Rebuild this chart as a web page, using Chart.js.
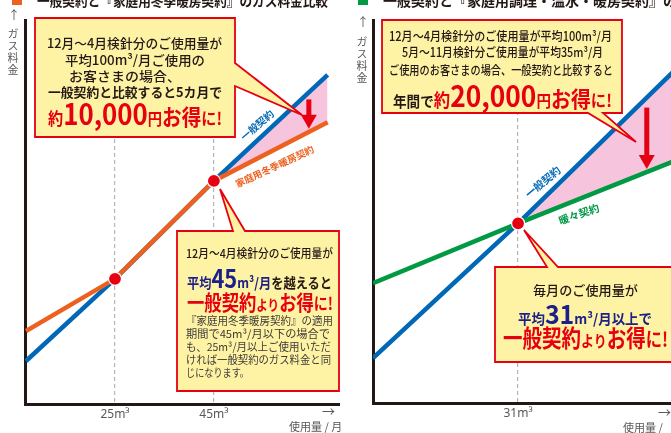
<!DOCTYPE html>
<html lang="ja">
<head>
<meta charset="utf-8">
<script src="https://cdn.jsdelivr.net/npm/chart.js@4.4.1/dist/chart.umd.min.js"></script>
<style>
  html, body { margin: 0; padding: 0; width: 671px; height: 433px; overflow: hidden; background: #fff; }
  body { position: relative; font-family: 'Noto Sans CJK JP', 'Noto Sans', sans-serif; color: #231815; }
  canvas { position: absolute; top: 0; z-index: 1; }
  #callouts { position: absolute; left: 0; top: 0; z-index: 2; }
  .t { position: absolute; white-space: nowrap; transform-origin: 0 50%; z-index: 3; }
  .n { color: #1d2088; }
  .r { color: #e60012; }
  .b { font-weight: 700; }
  .cap { position: absolute; z-index: 3; color: #595757; font-size: 11px; line-height: 11px; }
  .lab { position: absolute; z-index: 3; font-weight: 700; white-space: nowrap; line-height: 1; transform-origin: 50% 50%; }
</style>
</head>
<body>

<!-- headers (cut off at the top) -->
<div style="position:absolute;left:12px;top:-6px;width:10px;height:11px;background:#ec6120"></div>
<div class="t b" style="left:37px;top:-7px;font-size:14px;line-height:14px" data-w="291">一般契約と『家庭用冬季暖房契約』のガス料金比較</div>
<div style="position:absolute;left:358px;top:-6px;width:10px;height:11px;background:#009944"></div>
<div class="t b" style="left:383px;top:-7px;font-size:14px;line-height:14px">一般契約と『家庭用調理・温水・暖房契約』のガス料金比較</div>

<canvas id="left" width="340" height="433" style="left:0"></canvas>
<canvas id="right" width="340" height="433" style="left:340px"></canvas>

<svg id="callouts" width="671" height="433">
  <g fill="#fef3a4" stroke="#e60012" stroke-width="1.8" stroke-linejoin="miter">
    <path d="M35,18 H235 V63 L302,115 L235,86 V137 H35 Z"/>
    <path d="M177,231 H233 L220,189 L245,231 H339 V391 H177 Z"/>
    <path d="M382,20 H622 V113 H603 L636,142 L588,113 H382 Z"/>
    <path d="M495,267 H547 L524,230 L558,267 H700 V362 H495 Z"/>
  </g>
</svg>

<!-- axis captions -->
<div class="cap" style="left:8px;top:9px;font-size:12px">↑</div>
<div class="cap" style="left:7px;top:28px;writing-mode:vertical-rl;letter-spacing:1px">ガス料金</div>
<div class="cap" style="left:322px;top:405px;font-size:13px">→</div>
<div class="cap" style="left:289px;top:420px;font-size:11px;line-height:13px">使用量 / 月</div>
<div class="cap" style="left:357px;top:16px;font-size:12px">↑</div>
<div class="cap" style="left:356px;top:36px;writing-mode:vertical-rl;letter-spacing:1px">ガス料金</div>
<div class="cap" style="left:658px;top:406px;font-size:13px">→</div>
<div class="cap" style="left:623px;top:421px;font-size:11px;line-height:13px">使用量 / 月</div>

<!-- line labels -->
<div class="lab" style="left:237px;top:120px;font-size:10px;color:#0068b7;transform:rotate(-41deg)">一般契約</div>
<div class="lab" style="left:232px;top:162px;font-size:9.5px;color:#ec6120;transform:rotate(-25deg)">家庭用冬季暖房契約</div>
<div class="lab" style="left:522px;top:177px;font-size:10.5px;color:#0068b7;transform:rotate(-40deg)">一般契約</div>
<div class="lab" style="left:558px;top:209px;font-size:10.5px;color:#009944;transform:rotate(-19deg)">暖々契約</div>

<!-- left top callout -->
<div class="t" style="left:47px;top:35px;font-size:13px;line-height:16px;font-weight:500" data-w="175">12月〜4月検針分のご使用量が</div>
<div class="t" style="left:65px;top:52px;font-size:13px;line-height:16px;font-weight:500" data-w="140">平均100m³/月ご使用の</div>
<div class="t" style="left:69px;top:68px;font-size:13px;line-height:16px;font-weight:500" data-w="112">お客さまの場合、</div>
<div class="t b" style="left:48px;top:84px;font-size:13px;line-height:16px" data-w="174">一般契約と比較すると5カ月で</div>
<div class="t b r" style="left:48px;top:97px;font-size:17px;line-height:30px" data-w="174"><span>約</span><span style="font-size:29px">10,000</span><span style="font-size:16px">円</span><span style="font-size:22px">お得</span><span>に!</span></div>

<!-- left bottom callout -->
<div class="t" style="left:186px;top:245px;font-size:12px;line-height:16px;font-weight:500" data-w="147">12月〜4月検針分のご使用量が</div>
<div class="t b" style="left:187px;top:263px;font-size:14px;line-height:28px" data-w="145"><span class="n">平均<span style="font-size:25px">45</span>m³/月</span>を越えると</div>
<div class="t b r" style="left:187px;top:288px;font-size:21px;line-height:26px" data-w="146">一般契約<span style="font-size:14px">より</span>お得<span style="font-size:17px">に!</span></div>
<div class="t" style="left:186px;top:313px;font-size:11px;line-height:14px;color:#3e3a39" data-w="147">『家庭用冬季暖房契約』の適用</div>
<div class="t" style="left:186px;top:326px;font-size:11px;line-height:14px;color:#3e3a39" data-w="144">期間で45m³/月以下の場合で</div>
<div class="t" style="left:186px;top:339px;font-size:11px;line-height:14px;color:#3e3a39" data-w="145">も、25m³/月以上ご使用いただ</div>
<div class="t" style="left:186px;top:352px;font-size:11px;line-height:14px;color:#3e3a39" data-w="145">ければ一般契約のガス料金と同</div>
<div class="t" style="left:186px;top:365px;font-size:11px;line-height:14px;color:#3e3a39" data-w="63">じになります。</div>

<!-- right top callout -->
<div class="t" style="left:389px;top:28px;font-size:12.5px;line-height:16px;font-weight:500" data-w="223">12月〜4月検針分のご使用量が平均100m³/月</div>
<div class="t" style="left:402px;top:44px;font-size:12.5px;line-height:16px;font-weight:500" data-w="201">5月〜11月検針分ご使用量が平均35m³/月</div>
<div class="t" style="left:389px;top:62px;font-size:12.5px;line-height:16px;font-weight:500" data-w="224">ご使用のお客さまの場合、一般契約と比較すると</div>
<div class="t b" style="left:393px;top:79px;font-size:15px;line-height:30px" data-w="219">年間で<span class="r"><span style="font-size:18px">約</span><span style="font-size:29px">20,000</span><span style="font-size:16px">円</span><span style="font-size:22px">お得</span><span style="font-size:17px">に!</span></span></div>

<!-- right bottom callout -->
<div class="t" style="left:533px;top:282px;font-size:13px;line-height:16px;font-weight:500" data-w="105">毎月のご使用量が</div>
<div class="t b n" style="left:518px;top:299px;font-size:14px;line-height:28px" data-w="134">平均<span style="font-size:26px">31</span>m³/月以上で</div>
<div class="t b r" style="left:503px;top:323px;font-size:24px;line-height:28px" data-w="165">一般契約<span style="font-size:16px">より</span>お得<span style="font-size:20px">に!</span></div>

<script>
// usage (m³/月) and relative gas fee
const leftUsage = [7, 25, 45, 68];
const leftGeneral = [11.2, 32.6, 58.1, 85.7];
const leftWinter = [19.0, 32.6, 58.1, 73.4];
const leftCross = [25, 45];
const leftTicks = [25, 45];

const rightUsage = [0, 31, 65];
const rightGeneral = [11.7, 46.9, 87.5];
const rightHeating = [31.3, 46.9, 63.5];
const rightCross = [31];
const rightTicks = [31];

const BLUE = '#0068b7';
const ORANGE = '#ec6120';
const GREEN = '#009944';
const RED = '#e60012';
const PINK = '#f6c5dd';

const pts = (xs, ys) => xs.map((x, i) => ({ x, y: ys[i] }));

const redArrow = {
  id: 'redArrow',
  afterDatasetsDraw(chart, args, opts) {
    const { ctx, scales: { x, y } } = chart;
    const at = (ds) => {
      const d = chart.data.datasets[ds].data;
      for (let i = 1; i < d.length; i++) {
        if (opts.x <= d[i].x) {
          const t = (opts.x - d[i - 1].x) / (d[i].x - d[i - 1].x);
          return d[i - 1].y + t * (d[i].y - d[i - 1].y);
        }
      }
    };
    const px = x.getPixelForValue(opts.x);
    const top = y.getPixelForValue(at(opts.from)) + opts.gapTop;
    const tip = y.getPixelForValue(at(opts.to)) - opts.gapBottom;
    ctx.save();
    ctx.fillStyle = RED;
    ctx.fillRect(px - 2.5, top, 5, tip - top - 12);
    ctx.beginPath();
    ctx.moveTo(px - 8, tip - 14);
    ctx.lineTo(px + 8, tip - 14);
    ctx.lineTo(px, tip);
    ctx.closePath();
    ctx.fill();
    ctx.restore();
  }
};

function makeChart(id, cfg) {
  const crossPts = cfg.cross.map(c => ({ x: c, y: cfg.general[cfg.usage.indexOf(c)] }));
  return new Chart(document.getElementById(id), {
    type: 'line',
    data: {
      datasets: [
        {
          label: '交点',
          data: crossPts,
          showLine: false,
          pointRadius: 6.5,
          pointBackgroundColor: RED,
          pointBorderColor: '#fff',
          pointBorderWidth: 1.2
        },
        {
          label: cfg.otherName,
          data: pts(cfg.usage, cfg.other),
          borderColor: cfg.otherColor,
          borderWidth: 4.5,
          pointRadius: 0,
          fill: false
        },
        {
          label: '一般契約',
          data: pts(cfg.usage, cfg.general),
          borderColor: BLUE,
          borderWidth: 4.5,
          pointRadius: 0,
          fill: { target: 1, above: PINK, below: 'rgba(0,0,0,0)' }
        }
      ]
    },
    options: {
      responsive: false,
      animation: false,
      layout: { autoPadding: false, padding: { top: 20, left: 0, right: 0, bottom: 0 } },
      plugins: {
        legend: { display: false },
        tooltip: { enabled: false },
        redArrow: cfg.arrow
      },
      scales: {
        x: {
          type: 'linear',
          min: cfg.min,
          max: cfg.max,
          afterBuildTicks: s => { s.ticks = cfg.ticks.map(v => ({ value: v })); },
          afterFit: s => { s.height = cfg.xh; },
          ticks: {
            callback: v => v + 'm³',
            font: { family: "'Noto Sans', sans-serif", size: 12 },
            color: '#595757',
            padding: 3,
            maxRotation: 0,
            autoSkip: false
          },
          grid: { color: '#b5b5b6', lineWidth: 1.2, drawTicks: false },
          border: { color: '#231815', width: 3, dash: [4, 3] }
        },
        y: {
          min: 0,
          max: 100,
          afterFit: s => { s.width = cfg.yw; },
          ticks: { display: false },
          grid: { display: false },
          border: { color: '#231815', width: 3 }
        }
      }
    },
    plugins: [redArrow]
  });
}

makeChart('left', {
  usage: leftUsage, general: leftGeneral, other: leftWinter,
  otherName: '家庭用冬季暖房契約', otherColor: ORANGE,
  cross: leftCross, ticks: leftTicks, min: 6.8, max: 70.5, xh: 29, yw: 25,
  arrow: { x: 64.2, from: 2, to: 1, gapTop: 7, gapBottom: 3 }
});

makeChart('right', {
  usage: rightUsage, general: rightGeneral, other: rightHeating,
  otherName: '暖々契約', otherColor: GREEN,
  cross: rightCross, ticks: rightTicks, min: 0, max: 65.6, xh: 30, yw: 33,
  arrow: { x: 58.5, from: 2, to: 1, gapTop: 10, gapBottom: 3 }
});

document.fonts.ready.then(() => {
  document.querySelectorAll('[data-w]').forEach(el => {
    const w = el.getBoundingClientRect().width;
    el.style.transform = 'scaleX(' + (el.dataset.w / w) + ')';
  });
});
</script>
</body>
</html>
